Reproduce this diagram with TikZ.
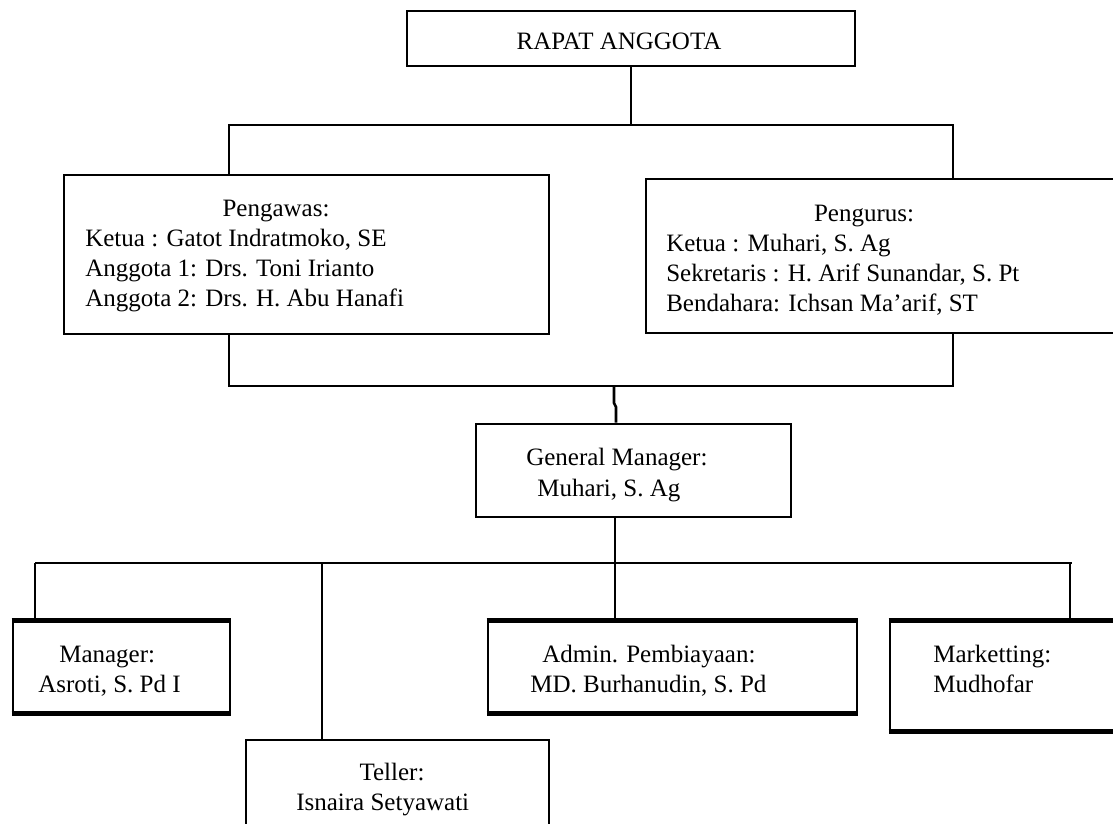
\documentclass[tikz,border=0pt]{standalone}
\usepackage{fontspec}
\setmainfont{Liberation Serif}
\begin{document}
\begin{tikzpicture}[x=1pt,y=-1pt,
  line width=2.6pt,
  box/.style={draw, rectangle, inner sep=0pt},
  txt/.style={inner sep=0pt, anchor=base west, font=\fontsize{25}{30}\selectfont},
  ctxt/.style={inner sep=0pt, anchor=base, font=\fontsize{25}{30}\selectfont},
  heavy/.style={line width=4.5pt}]
\useasboundingbox (0,0) rectangle (1113,824);
% boxes
\node[box, minimum width=448pt, minimum height=55pt] (rapat) at (631,38.5) {};
\node[box, minimum width=485pt, minimum height=159pt] (pengawas) at (306.5,254.5) {};
\node[box, minimum width=479pt, minimum height=154pt] (pengurus) at (885.5,256) {};
\node[box, minimum width=315pt, minimum height=93pt] (gm) at (633.5,470.5) {};
\node[box, minimum width=217pt, minimum height=90pt] (manager) at (121.5,667) {};
\node[box, minimum width=369pt, minimum height=90pt] (admin) at (672.5,667) {};
\node[box, minimum width=235pt, minimum height=108pt] (marketting) at (1007.5,676) {};
\node[box, minimum width=303pt, minimum height=100pt] (teller) at (397.5,790) {};
% heavier top and bottom edges of the lower boxes
\foreach \b in {manager,admin,marketting}{
  \draw[heavy] (\b.north west) -- (\b.north east);
  \draw[heavy] (\b.south west) -- (\b.south east);
}
% texts
\node[ctxt] (t-rapat) at (619,50) {RAPAT ANGGOTA};
\node[ctxt] (t-pgw) at (276,216) {Pengawas:};
\node[txt] (t-pgw1) at (84,246) {Ketua : Gatot Indratmoko, SE};
\node[txt] (t-pgw2) at (84,276) {Anggota 1: Drs. Toni Irianto};
\node[txt] (t-pgw3) at (84,306) {Anggota 2: Drs. H. Abu Hanafi};
\node[ctxt] (t-pgr) at (864,221) {Pengurus:};
\node[txt] (t-pgr1) at (665,251) {Ketua : Muhari, S. Ag};
\node[txt] (t-pgr2) at (665,281) {Sekretaris : H. Arif Sunandar, S. Pt};
\node[txt] (t-pgr3) at (665,311) {Bendahara: Ichsan Ma’arif, ST};
\node[txt] (t-gm1) at (525,465) {General Manager:};
\node[txt] (t-gm2) at (536,496) {Muhari, S. Ag};
\node[txt] (t-mgr1) at (58,662) {Manager:};
\node[txt] (t-mgr2) at (37,692) {Asroti, S. Pd I};
\node[txt] (t-adm1) at (541,662) {Admin. Pembiayaan:};
\node[txt] (t-adm2) at (529,692) {MD. Burhanudin, S. Pd};
\node[txt] (t-mkt1) at (932,662) {Marketting:};
\node[txt] (t-mkt2) at (932,692) {Mudhofar};
\node[ctxt] (t-tel1) at (392,780) {Teller:};
\node[txt] (t-tel2) at (295,810) {Isnaira Setyawati};
% connectors
\coordinate (j1) at (229,125);
\coordinate (j2) at (953,125);
\coordinate (j3) at (229,386);
\coordinate (j4) at (953,386);
\coordinate (j5) at (614,386);
\coordinate (j6) at (614,403);
\coordinate (j7) at (616,407);
\coordinate (k0) at (35,563);
\coordinate (k1) at (322,563);
\coordinate (k2) at (615,563);
\coordinate (k3) at (1070,563);
\coordinate (k4) at (1072,563);
\draw (rapat.south) -- (rapat.south |- j1);
\draw (pengawas.north -| j1) -- (j1) -- (j2) -- (pengurus.north -| j2);
\draw (pengawas.south -| j3) -- (j3) -- (j4) -- (pengurus.south -| j4);
\draw (j5) -- (j6) -- (j7) -- (gm.north -| j7);
\draw (gm.south -| k2) -- (k2);
\draw (k0) -- (k4);
\draw (k0) -- (manager.north -| k0);
\draw (k1) -- (teller.north -| k1);
\draw (k2) -- (admin.north -| k2);
\draw (k3) -- (marketting.north -| k3);
\end{tikzpicture}
\end{document}
